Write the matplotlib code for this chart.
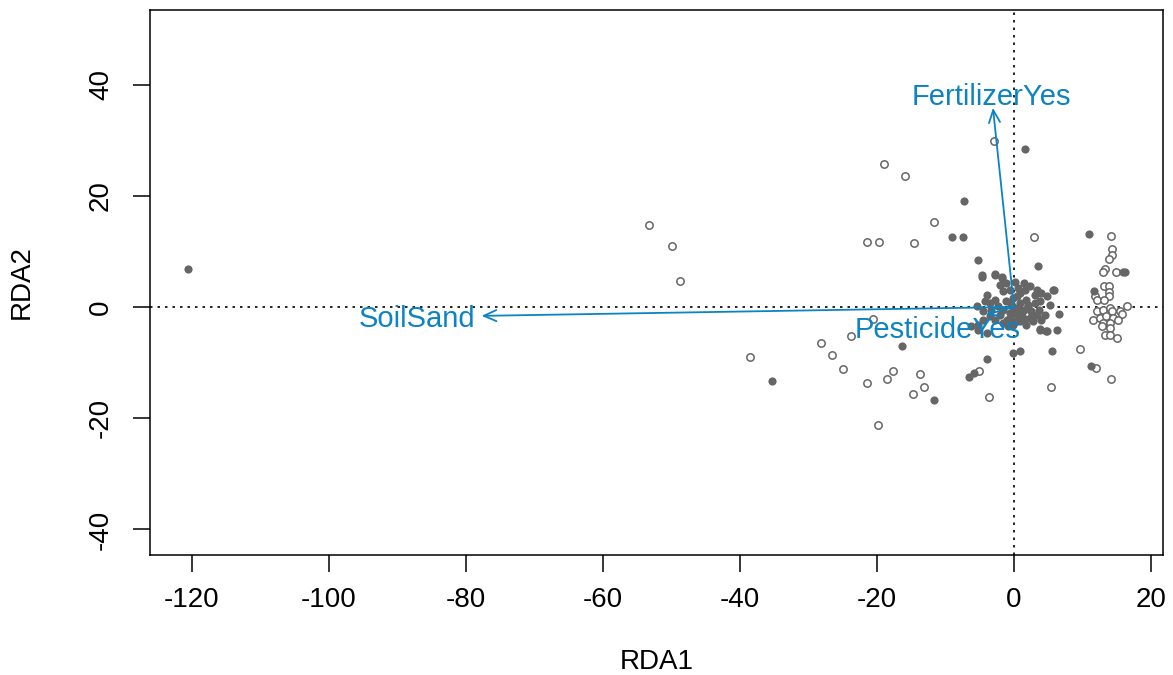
"""
RDA biplot: site scores (filled / open) with constraint arrows.
"""

import matplotlib
matplotlib.use("Agg")
import matplotlib.pyplot as plt

plt.rcParams["font.family"] = ["Liberation Sans", "DejaVu Sans"]
plt.rcParams["axes.unicode_minus"] = False

GREY = "#666666"
BLUE = "#0C83C4"

# site scores, group 1 (filled dots)
rda1_filled = [
    -120.6, -35.3, -16.3, -11.7, 1.6, -7.3, -9.1, -7.5, 11.0, -5.3, 3.5, 15.9, 16.2,
    11.7, 5.9, 6.6, 6.3, 3.8, 4.7, -0.2, 0.9, 5.5, -3.9, -6.6, -5.8, 11.3,
    -4.6, -2.7, -1.8, -6.2, -5.2, -4.0,
    -4.7, -2.8, -1.8, -2.0, 0.1, 1.4, 2.3, 5.7, 4.8, 5.3, 4.0, 3.8, 4.8,
    -1.6, -2.8, -4.2, -4.5, -3.5, -4.5, -5.2, -1.6, -0.1, 0.4, 2.8, 1.8, 2.6,
    3.6, 3.8, 3.1, 0.9, 1.8, 0.9, 1.4, -0.6, -1.6, -1.1, -0.1, -2.3, -2.0,
    -0.6, 0.6, 2.1, -0.3, 3.1, 2.3, 0.9, -0.8, -2.8, -3.3, -3.5, -0.6, -1.1,
    0.6, 1.6, 3.3, 4.0, 0.4, 1.1, 3.3, 4.5, -4.0, -5.4,
    0.0, 1.0, 2.0, -1.0, 0.5, 1.5, 2.5, -0.5,
]
rda2_filled = [
    6.8, -13.4, -7.1, -16.7, 28.4, 19.1, 12.5, 12.6, 13.1, 8.5, 7.3, 6.2, 6.2,
    2.9, 3.1, -1.2, -4.1, -4.0, -4.4, -8.2, -8.0, -7.9, -9.4, -12.6, -11.9, -10.6,
    5.8, 5.8, 5.2, -3.5, -4.1, -4.7,
    5.4, 5.9, 5.4, 4.0, 4.4, 4.3, 3.7, 3.1, 1.9, 0.4, -2.3, -4.1, -4.4,
    2.8, 1.3, 1.0, -0.8, -1.7, -2.3, -3.2, -2.9, -3.2, -2.3, -2.6, -3.2, -1.4,
    -0.5, 1.0, 2.2, 2.5, 1.3, 0.7, -0.5, -1.1, -0.5, 1.0, 1.6, 0.1, -1.4,
    -2.0, -1.4, 0.1, 0.1, 0.7, -2.0, -2.6, -3.5, -2.3, -0.5, 0.7, 3.1, 4.3,
    3.4, 3.1, 3.1, 2.5, -0.2, -1.7, -1.4, -1.4, 2.2, 0.1,
    -1.0, -0.8, 0.4, -2.4, 1.9, -2.2, -0.8, 0.6,
]

# site scores, group 2 (open circles)
rda1_open = [
    -53.3, -49.9, -48.8, -19.0, -15.9, -11.7, -21.5, -19.7, -14.6, -20.6, -23.8,
    -28.2, -26.5, -24.9, -38.5, -21.4, -18.6, -17.6, -13.7, -13.2, -14.8, -19.9,
    -2.9, 2.9, 14.1, 14.3, 14.3, 13.9, 13.3, 13.0, 14.9, 13.1, 13.9, 13.9, 13.8,
    11.8, 12.1, 13.2, 16.5,
    12.1, 13.0, 14.0, 14.3, 15.5, 15.7, 11.6, 12.6, 13.5, 14.5, 15.2, 13.0,
    14.0, 12.8, 14.0, 13.3, 14.0, 15.0,
    9.6, 12.0, 14.2, 5.4, -3.6, -5.1,
]
rda2_open = [
    14.7, 11.0, 4.7, 25.7, 23.6, 15.2, 11.6, 11.6, 11.5, -2.2, -5.2,
    -6.4, -8.6, -11.1, -9.0, -13.7, -12.9, -11.6, -12.0, -14.4, -15.7, -21.3,
    29.9, 12.5, 12.8, 10.5, 9.3, 8.6, 6.8, 6.2, 6.2, 3.8, 3.7, 2.7, 2.0,
    2.0, 1.3, 1.3, 0.1,
    -0.7, -0.5, -0.2, -0.8, -0.7, -1.3, -2.3, -2.0, -1.7, -1.9, -2.3, -2.9,
    -2.8, -3.5, -3.8, -5.0, -5.0, -5.6,
    -7.5, -10.9, -13.0, -14.4, -16.1, -11.6,
]

# biplot arrows (constraints)
arrow_names = ["FertilizerYes", "SoilSand", "PesticideYes"]
arrow_rda1 = [-3.07, -77.7, -4.1]
arrow_rda2 = [35.8, -1.6, -1.4]
label_rda1 = [-3.3, -87.2, -11.1]
label_rda2 = [37.8, -2.2, -4.1]

fig = plt.figure(figsize=(11.73, 6.75), dpi=100)
ax = fig.add_axes([150 / 1173, 1 - 555 / 675, 1013 / 1173, 545 / 675])

ax.axhline(0, color="black", lw=1.2, linestyle=(0, (1.5, 3)), zorder=1)
ax.axvline(0, color="black", lw=1.2, linestyle=(0, (1.5, 3)), zorder=1)

ax.plot(rda1_open, rda2_open, linestyle="none", marker="o", markersize=5.3,
        markerfacecolor="white", markeredgecolor=GREY, markeredgewidth=1.1, zorder=2)
ax.plot(rda1_filled, rda2_filled, linestyle="none", marker="o", markersize=5.9,
        markerfacecolor=GREY, markeredgecolor=GREY, markeredgewidth=0.0, zorder=3)

for x, y in zip(arrow_rda1, arrow_rda2):
    ax.annotate("", xy=(x, y), xytext=(0, 0),
                arrowprops=dict(arrowstyle="->,head_length=0.9,head_width=0.4",
                                color=BLUE, lw=1.3, shrinkA=0, shrinkB=0),
                zorder=4)
for name, x, y in zip(arrow_names, label_rda1, label_rda2):
    ax.text(x, y, name, color=BLUE, fontsize=21, ha="center", va="center", zorder=5)

ax.set_xlim(-126.1, 21.75)
ax.set_ylim(-44.6, 53.4)
ax.set_xticks([-120, -100, -80, -60, -40, -20, 0, 20])
ax.set_yticks([-40, -20, 0, 20, 40])

ax.tick_params(axis="both", labelsize=20, length=12, width=1.1, color="black")
ax.tick_params(axis="x", pad=11)
ax.tick_params(axis="y", pad=14, labelrotation=90)
for lab in ax.get_yticklabels():
    lab.set_va("center")

for sp in ax.spines.values():
    sp.set_linewidth(1.1)

ax.set_xlabel("RDA1", fontsize=20, labelpad=26)
ax.set_ylabel("RDA2", fontsize=20, labelpad=38)

fig.savefig("out.png", dpi=100)
